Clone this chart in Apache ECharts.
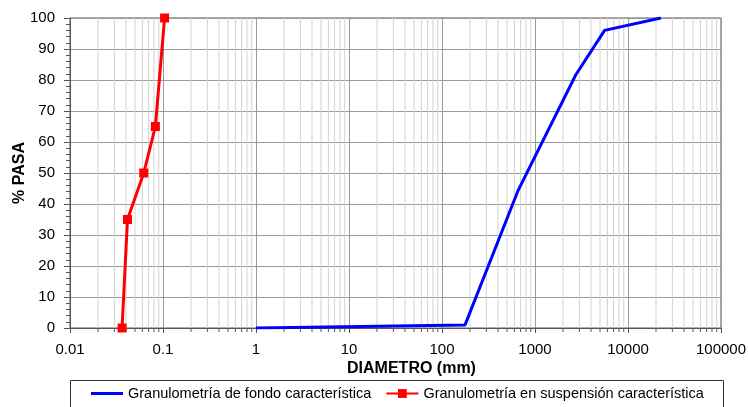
<!DOCTYPE html>
<html><head><meta charset="utf-8">
<script src="https://cdn.jsdelivr.net/npm/echarts@6/dist/echarts.min.js"></script>
<style>html,body{margin:0;padding:0;background:#fff}#c{width:748px;height:407px}</style>
</head><body><div id="c"></div>
<script>
var fondoDiam = [1, 177, 661, 2740, 5600, 22600];
var fondoPasa = [0, 1, 44.5, 81.6, 96, 100];
var suspDiam = [0.0363, 0.0415, 0.0621, 0.0828, 0.104];
var suspPasa = [0, 35, 50, 65, 100];
var xTickLabels = ['0.01', '0.1', '1', '10', '100', '1000', '10000', '100000'];
var yTicks = [0, 10, 20, 30, 40, 50, 60, 70, 80, 90, 100];
var seriesNames = ['Granulometría de fondo característica', 'Granulometría en suspensión característica'];

var minorX = [];
for (var e = -2; e < 5; e++) for (var k = 2; k <= 9; k++) minorX.push([k * Math.pow(10, e)]);

var chart = echarts.init(document.getElementById('c'), null, {renderer: 'canvas'});
var font = 'Liberation Sans, Arial, sans-serif';
chart.setOption({
  animation: false,
  textStyle: {fontFamily: font},
  grid: {left: 70, right: 27, top: 18, bottom: 79, show: true, borderColor: '#555', borderWidth: 1,
    containLabel: false, outerBoundsMode: 'none'},
  xAxis: {
    type: 'log', logBase: 10, min: 0.01, max: 100000,
    name: 'DIAMETRO (mm)', nameLocation: 'middle', nameGap: 33, nameMoveOverlap: false,
    nameTextStyle: {fontWeight: 'bold', fontSize: 16, color: '#000', fontFamily: font, padding: [0, 0, 0, 32]},
    axisLine: {lineStyle: {color: '#555'}},
    axisTick: {show: true, length: 5, lineStyle: {color: '#555'}},
    axisLabel: {color: '#000', fontSize: 15, margin: 14, fontFamily: font, hideOverlap: false,
      formatter: function (v) { var i = Math.round(Math.log10(v)) + 2; return xTickLabels[i] || ''; }},
    splitLine: {show: true, lineStyle: {color: '#9a9a9a', width: 1}}
  },
  yAxis: {
    type: 'value', min: 0, max: 100, interval: 10,
    name: '% PASA', nameLocation: 'middle', nameGap: 42, nameRotate: 90, nameMoveOverlap: false,
    nameTextStyle: {fontWeight: 'bold', fontSize: 16, color: '#000', fontFamily: font},
    axisLine: {show: true, lineStyle: {color: '#555'}},
    axisTick: {show: true, length: 6, lineStyle: {color: '#555'}},
    minorTick: {show: true, splitNumber: 5, length: 4, lineStyle: {color: '#555'}},
    axisLabel: {color: '#000', fontSize: 15, margin: 15, fontFamily: font,
      formatter: function (v) { return yTicks.indexOf(v) >= 0 ? String(v) : ''; }},
    splitLine: {show: true, lineStyle: {color: '#9a9a9a', width: 1}}
  },
  legend: {
    data: [
      {name: seriesNames[0], icon: 'path://M0,0 L32,0 L32,3 L0,3 Z'},
      {name: seriesNames[1]}
    ],
    top: 381, left: 86, itemWidth: 32, itemHeight: 11, itemGap: 14,
    textStyle: {fontSize: 14.5, color: '#000', fontFamily: font}
  },
  graphic: [{type: 'rect', left: 68, top: 378, shape: {width: 653, height: 40},
    style: {fill: 'none', stroke: '#333', lineWidth: 1}, silent: true}],
  series: [
    {type: 'custom', name: 'minor', silent: true, z: 1, clip: false,
      data: minorX,
      renderItem: function (params, api) {
        var v = api.value(0);
        var b = api.coord([v, 0]);
        var t = api.coord([v, 100]);
        return {type: 'group', children: [
          {type: 'line', shape: {x1: b[0], y1: b[1], x2: t[0], y2: t[1]}, style: {stroke: '#d2d2d2', lineWidth: 1}},
          {type: 'line', shape: {x1: b[0], y1: b[1], x2: b[0], y2: b[1] + 4}, style: {stroke: '#555', lineWidth: 1}}
        ]};
      }},
    {type: 'line', name: seriesNames[0], z: 5,
      data: fondoDiam.map(function (d, i) { return [d, fondoPasa[i]]; }),
      symbol: 'none', lineStyle: {color: '#0000ff', width: 3}, itemStyle: {color: '#0000ff'}},
    {type: 'line', name: seriesNames[1], z: 6,
      data: suspDiam.map(function (d, i) { return [d, suspPasa[i]]; }),
      symbol: 'rect', symbolSize: 9, lineStyle: {color: '#ff0000', width: 3}, itemStyle: {color: '#ff0000'}}
  ]
});
</script></body></html>
